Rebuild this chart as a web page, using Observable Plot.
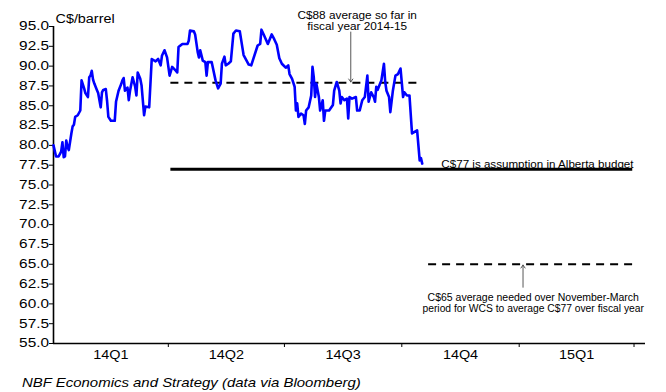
<!DOCTYPE html>
<html><head><meta charset="utf-8">
<script src="https://cdn.jsdelivr.net/npm/d3@7"></script>
<script src="https://cdn.jsdelivr.net/npm/@observablehq/plot@0.6"></script>
<style>
body{margin:0;background:#fff;font-family:"Liberation Sans",Arial,sans-serif;}
#chart{position:relative;width:666px;height:392px;overflow:hidden;background:#fff}
#caption{position:absolute;left:22px;top:376px;font-style:italic;font-size:13px;line-height:13px;transform:scaleX(1.15);transform-origin:left top;white-space:nowrap;color:#000}
</style></head><body><div id="chart"></div>
<script>
// ---- data ----
const dates = ["2014-01-01","2014-01-03","2014-01-05","2014-01-06","2014-01-07","2014-01-08","2014-01-09","2014-01-10","2014-01-11","2014-01-12","2014-01-13","2014-01-15","2014-01-16","2014-01-17","2014-01-18","2014-01-20","2014-01-22","2014-01-23","2014-01-25","2014-01-26","2014-01-28","2014-01-29","2014-01-30","2014-01-31","2014-02-01","2014-02-02","2014-02-04","2014-02-05","2014-02-07","2014-02-08","2014-02-09","2014-02-11","2014-02-12","2014-02-13","2014-02-15","2014-02-18","2014-02-19","2014-02-21","2014-02-23","2014-02-24","2014-02-25","2014-02-26","2014-02-28","2014-03-01","2014-03-02","2014-03-04","2014-03-06","2014-03-07","2014-03-08","2014-03-10","2014-03-11","2014-03-13","2014-03-14","2014-03-17","2014-03-19","2014-03-22","2014-03-24","2014-03-26","2014-03-27","2014-03-29","2014-03-31","2014-04-02","2014-04-04","2014-04-07","2014-04-08","2014-04-09","2014-04-12","2014-04-16","2014-04-17","2014-04-18","2014-04-21","2014-04-22","2014-04-24","2014-04-25","2014-04-26","2014-04-28","2014-04-30","2014-05-01","2014-05-02","2014-05-05","2014-05-08","2014-05-10","2014-05-12","2014-05-13","2014-05-15","2014-05-16","2014-05-18","2014-05-20","2014-05-22","2014-05-24","2014-05-27","2014-05-29","2014-05-30","2014-06-01","2014-06-03","2014-06-05","2014-06-07","2014-06-10","2014-06-12","2014-06-13","2014-06-15","2014-06-18","2014-06-21","2014-06-23","2014-06-25","2014-06-27","2014-06-29","2014-07-02","2014-07-04","2014-07-05","2014-07-07","2014-07-09","2014-07-10","2014-07-11","2014-07-12","2014-07-14","2014-07-16","2014-07-17","2014-07-18","2014-07-20","2014-07-22","2014-07-23","2014-07-24","2014-07-25","2014-07-26","2014-07-28","2014-07-29","2014-07-31","2014-08-01","2014-08-02","2014-08-05","2014-08-08","2014-08-09","2014-08-11","2014-08-13","2014-08-14","2014-08-15","2014-08-17","2014-08-19","2014-08-20","2014-08-21","2014-08-23","2014-08-26","2014-08-27","2014-08-29","2014-08-31","2014-09-02","2014-09-04","2014-09-05","2014-09-07","2014-09-09","2014-09-10","2014-09-11","2014-09-12","2014-09-14","2014-09-15","2014-09-17","2014-09-18","2014-09-19","2014-09-21","2014-09-22","2014-09-24","2014-09-26","2014-09-28","2014-09-30","2014-10-02","2014-10-03","2014-10-05","2014-10-07","2014-10-09","2014-10-10","2014-10-13","2014-10-15","2014-10-16","2014-10-17"];
const values = [80.0,78.6,78.6,78.9,79.2,80.4,78.5,78.6,80.6,79.8,79.4,81.5,82.4,82.6,83.6,83.8,84.4,88.2,87.2,86.6,86.1,88.6,88.8,89.4,88.3,87.8,87.0,86.6,84.8,86.7,87.0,87.1,85.6,83.6,83.1,83.1,85.5,86.9,87.7,88.2,88.5,86.9,87.3,85.7,86.9,88.6,87.4,86.3,89.2,88.4,87.6,83.8,84.9,84.8,90.9,90.6,90.9,90.1,91.3,92.0,91.1,88.8,89.9,89.4,89.2,92.4,92.8,92.8,93.2,94.5,94.4,94.0,91.8,91.1,92.0,90.7,90.5,88.8,90.5,90.5,88.2,87.2,87.8,90.3,91.2,90.1,90.3,90.6,94.1,94.5,94.4,92.4,91.4,90.8,90.2,90.1,91.1,92.6,92.8,94.6,93.9,92.8,94.0,93.4,92.7,91.0,90.3,89.8,90.1,89.0,88.4,87.4,84.4,85.3,83.6,84.0,83.8,82.7,84.4,84.8,86.3,89.9,88.6,86.1,87.8,86.1,84.4,85.7,83.1,84.4,84.4,85.1,86.9,88.0,86.9,85.3,86.1,85.7,85.9,83.4,86.1,85.9,86.1,84.4,84.4,85.7,86.1,88.8,85.5,86.7,86.1,85.5,87.4,87.0,87.8,88.2,90.3,88.0,86.9,86.1,84.2,86.9,88.8,89.0,89.7,86.1,86.7,86.3,86.3,81.5,81.6,81.9,78.1,78.4,77.7];

const yTicks = [55, 57.5, 60, 62.5, 65, 67.5, 70, 72.5, 75, 77.5, 80, 82.5, 85, 87.5, 90, 92.5, 95];
const quarterStarts = ["2014-01-01","2014-04-01","2014-07-01","2014-10-01","2015-01-01","2015-04-01"];
const quarterLabels = ["14Q1","14Q2","14Q3","14Q4","15Q1"];

// reference levels: average so far, budget assumption, needed average
const refValues = [87.9, 77, 65];
const refStarts = ["2014-04-03","2014-04-03","2014-10-22"];
const refEnds   = ["2014-10-17","2015-03-31","2015-03-31"];
const refDashed = [true, false, true];

// annotations
const noteTexts  = ["C$88 average so far in","fiscal year 2014-15","C$77 is assumption in Alberta budget","C$65 average needed over November-March","period for WCS to average C$77 over fiscal year"];
const noteDates  = ["2014-08-27","2014-08-27","2014-11-01","2015-01-12","2015-01-12"];
const noteValues = [96.4, 95.0, 77.6, 60.8, 59.4];
const noteAnchor = ["middle","middle","start","middle","middle"];
const noteStretch = [1.18, 1.18, 1.16, 1.05, 1.03];

const arrowDates = ["2014-08-22","2015-01-04"];
const arrowFrom  = [94.3, 62.1];
const arrowTo    = [88.0, 64.9];

const unitLabel = "C$/barrel";
const caption = "NBF Economics and Strategy (data via Bloomberg)";

// ---- build ----
const parse = d3.utcParse("%Y-%m-%d");
const series = dates.map((d, i) => ({date: parse(d), value: values[i]}));
const refs = refValues.map((v, i) => ({value: v, start: parse(refStarts[i]), end: parse(refEnds[i]), dashed: refDashed[i]}));
const notes = noteTexts.map((t, i) => ({text: t, date: parse(noteDates[i]), value: noteValues[i], anchor: noteAnchor[i]}));
const arrows = arrowDates.map((d, i) => ({date: parse(d), from: arrowFrom[i], to: arrowTo[i]}));
const qs = quarterStarts.map(parse);
const qMids = quarterLabels.map((l, i) => new Date((+qs[i] + +qs[i + 1]) / 2));
const qLabelMap = new Map(qMids.map((d, i) => [+d, quarterLabels[i]]));
const xDomain = [qs[0], parse("2015-04-10")];

const font = "'Liberation Sans', Arial, sans-serif";

const plot = Plot.plot({
  width: 666, height: 368,
  marginLeft: 53, marginRight: 21, marginTop: 26, marginBottom: 25,
  style: {fontFamily: font, background: "white", color: "#000", overflow: "visible"},
  x: {type: "utc", domain: xDomain, label: null},
  y: {domain: [55, 95], label: null},
  marks: [
    Plot.axisY({ticks: yTicks, tickFormat: d3.format(".1f"), tickSize: 4, tickPadding: 0.5, fontSize: 12, label: null, stroke: "#000"}),
    Plot.axisX({ticks: qs.slice(1), tickSize: 4, tickFormat: () => "", label: null, stroke: "#000"}),
    Plot.axisX({ticks: qMids, tickSize: 0, tickPadding: 7, fontSize: 12, tickFormat: d => qLabelMap.get(+d), label: null}),
    Plot.ruleY([55], {stroke: "#000", strokeWidth: 1.6}),
    Plot.ruleX([xDomain[0]], {y1: 55, y2: 95, stroke: "#000", strokeWidth: 1.6}),
    Plot.ruleY(refs.filter(d => !d.dashed), {y: "value", x1: "start", x2: "end", stroke: "#000", strokeWidth: 3}),
    Plot.ruleY(refs.filter(d => d.dashed), {y: "value", x1: "start", x2: "end", stroke: "#000", strokeWidth: 2, strokeDasharray: "8,6"}),
    Plot.lineY(series, {x: "date", y: "value", stroke: "#0000ff", strokeWidth: 2.6, strokeLinejoin: "round"}),
    Plot.arrow(arrows, {x1: "date", x2: "date", y1: "from", y2: "to", stroke: "#444", strokeWidth: 0.9, headLength: 6, headAngle: 70}),
    Plot.text(notes.filter(d => d.anchor === "middle"), {x: "date", y: "value", text: "text", textAnchor: "middle", fontSize: 10, fill: "#000"}),
    Plot.text(notes.filter(d => d.anchor === "start"), {x: "date", y: "value", text: "text", textAnchor: "start", fontSize: 10, fill: "#000"}),
    Plot.text([unitLabel], {frameAnchor: "top-left", dx: 2, dy: -12, textAnchor: "start", fontSize: 12.5, fill: "#000"})
  ]
});

const chart = document.getElementById("chart");
chart.appendChild(plot);
const cap = document.createElement("div");
cap.id = "caption";
cap.textContent = caption;
chart.appendChild(cap);

// emulate the horizontally stretched lettering of the original
const stretchByText = new Map(noteTexts.map((t, i) => [t, noteStretch[i]]));
stretchByText.set(unitLabel, 1.15);
plot.querySelectorAll("text").forEach(t => {
  const g = t.closest("g[aria-label]");
  const lab = g ? g.getAttribute("aria-label") : "";
  const content = t.textContent;
  let k = 1;
  if (lab.startsWith("y-axis tick label")) k = 1.28;
  else if (lab.startsWith("x-axis tick label")) k = 1.2;
  else if (stretchByText.has(content)) k = stretchByText.get(content);
  const w = t.getComputedTextLength();
  if (w > 0 && k !== 1) {
    t.setAttribute("textLength", (w * k).toFixed(2));
    t.setAttribute("lengthAdjust", "spacingAndGlyphs");
  }
});
</script>
</body></html>
